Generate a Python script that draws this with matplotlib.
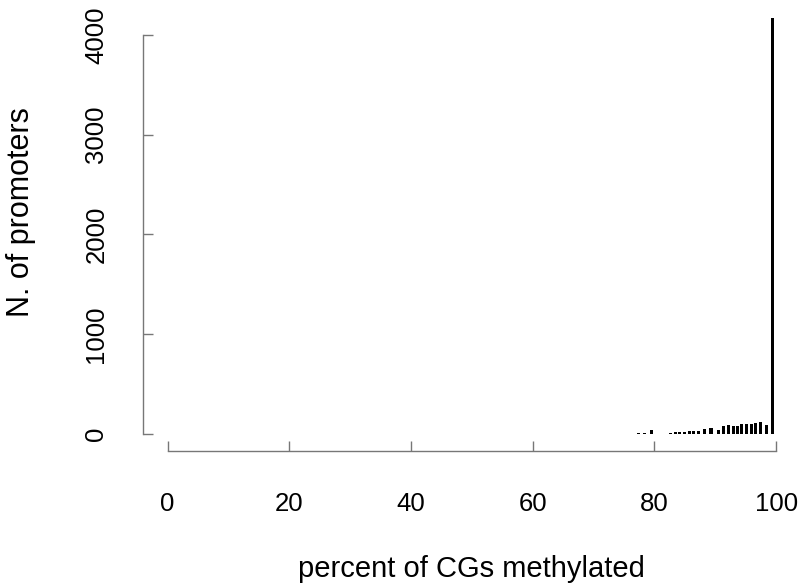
import matplotlib
matplotlib.use('Agg')
import matplotlib.pyplot as plt

# percent of CGs methylated (bar positions) and number of promoters
pct = [77.4, 78.3, 79.5, 80.8, 81.8, 82.6, 83.4, 84.2, 85.0, 85.7,
       86.5, 87.3, 88.3, 89.3, 90.5, 91.3, 92.2, 93.0, 93.6, 94.3,
       95.2, 96.0, 96.6, 97.5, 98.4, 99.4]
counts = [5, 5, 35, 3, 3, 10, 18, 20, 20, 25,
          30, 27, 47, 62, 38, 75, 85, 78, 75, 100,
          102, 102, 108, 115, 90, 4170]

xticks = [0, 20, 40, 60, 80, 100]
yticks = [0, 1000, 2000, 3000, 4000]

plt.rcParams['font.family'] = ['Liberation Sans', 'DejaVu Sans']

fig = plt.figure(figsize=(8.01, 5.88), dpi=100)
ax = fig.add_axes([0.1788, 0.2337, 0.8205, 0.7639])

widths = [0.6 if c > 1000 else 0.5 for c in counts]
ax.bar(pct, counts, width=widths, color='black', linewidth=0)

# R style axis extension (4%)
ax.set_xlim(-4, 104)
ax.set_ylim(-0.04 * 4170, 4170 * 1.04)

for s in ['top', 'right']:
    ax.spines[s].set_visible(False)
ax.spines['left'].set_bounds(0, 4000)
ax.spines['bottom'].set_bounds(0, 100)
for s in ['left', 'bottom']:
    ax.spines[s].set_color('#777777')
    ax.spines[s].set_linewidth(1.0)

ax.set_xticks(xticks)
ax.set_yticks(yticks)
ax.set_yticklabels([str(v) for v in yticks], rotation=90, va='center')
ax.tick_params(axis='both', direction='in', length=7, width=1.0,
               color='#777777', labelsize=18.5, labelcolor='black')
ax.tick_params(axis='x', pad=30)
ax.tick_params(axis='y', pad=25)

ax.set_xlabel('percent of CGs methylated', fontsize=21, labelpad=28)
ax.set_ylabel('N. of promoters', fontsize=22)
ax.yaxis.set_label_coords(-0.163, 0.53)

plt.savefig('out.png', dpi=100)
